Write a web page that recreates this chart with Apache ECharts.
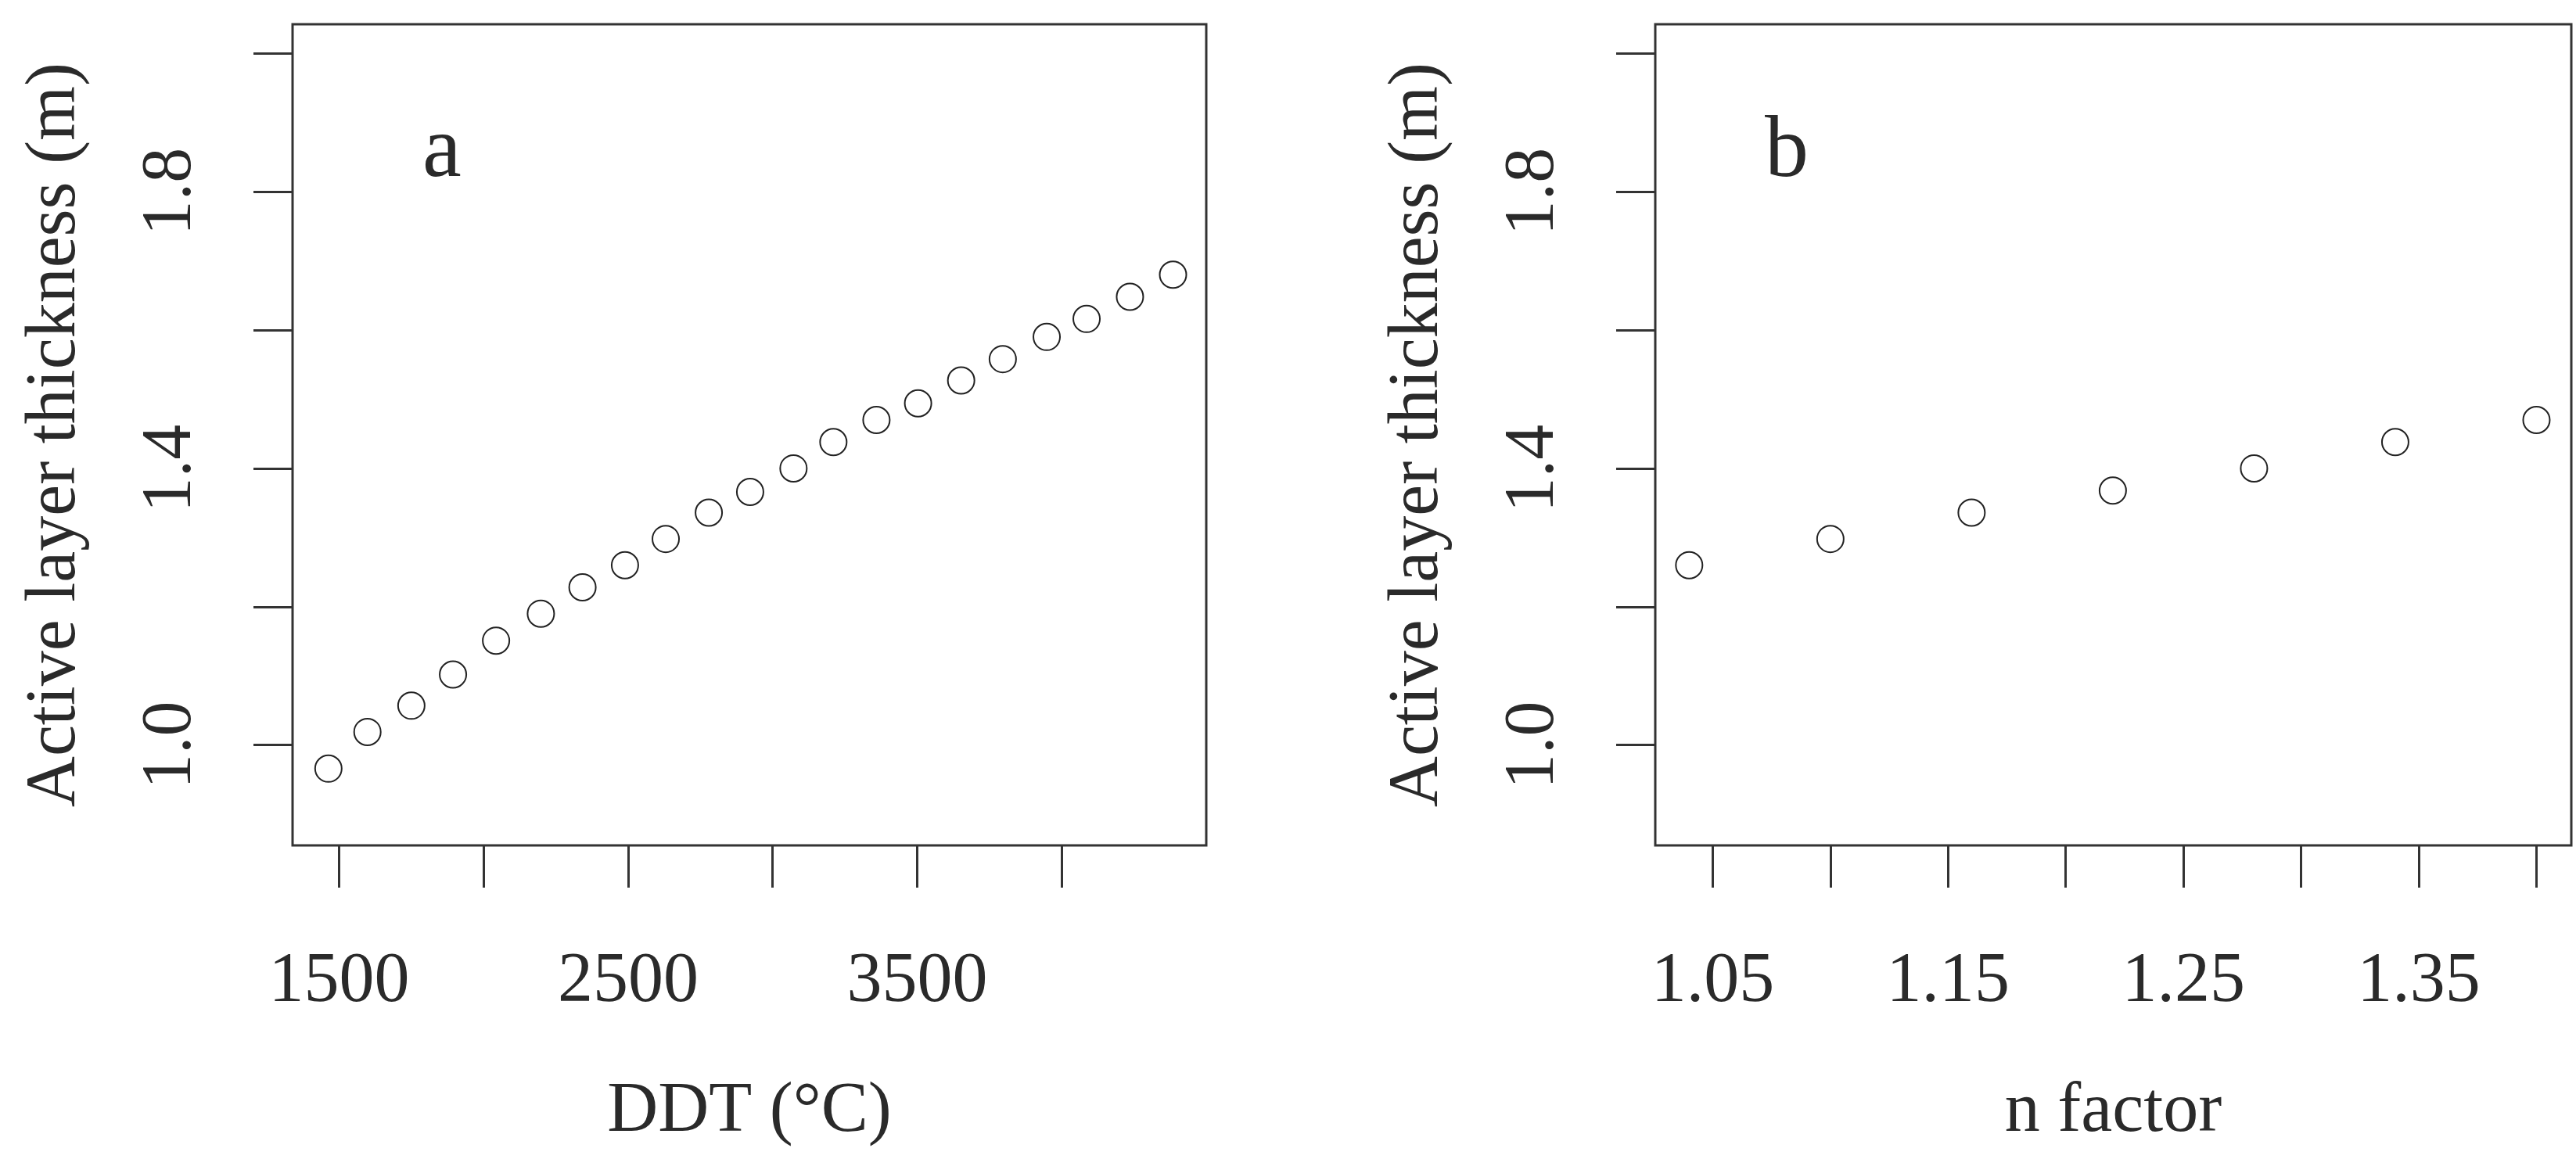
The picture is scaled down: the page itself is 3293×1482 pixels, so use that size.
<!DOCTYPE html>
<html><head><meta charset="utf-8">
<script src="https://cdn.jsdelivr.net/npm/echarts@6/dist/echarts.min.js"></script>
<style>html,body{margin:0;padding:0;background:#fff}#c{width:3293px;height:1482px}</style>
</head><body><div id="c"></div>
<script>
const ddtX = [1463,1598,1750,1894,2043,2198,2342,2489,2630,2779,2922,3072,3210,3359,3503,3652,3796,3948,4086,4236,4385];
const ddtY = [0.966,1.019,1.057,1.102,1.151,1.190,1.228,1.260,1.298,1.336,1.366,1.400,1.438,1.470,1.494,1.527,1.558,1.590,1.616,1.648,1.680];
const nX = [1.04,1.10,1.16,1.22,1.28,1.34,1.40];
const nY = [1.260,1.298,1.336,1.368,1.400,1.438,1.470];
const yTicks = [1.0,1.2,1.4,1.6,1.8,2.0];
const yLabels = [1.0,1.4,1.8];
const ddtTicks = [1500,2000,2500,3000,3500,4000];
const ddtLabels = [1500,2500,3500];
const nTicks = [1.05,1.10,1.15,1.20,1.25,1.30,1.35,1.40];
const nLabels = [1.05,1.15,1.25,1.35];

const FONT = '"Liberation Serif","DejaVu Serif",serif';
const INK = '#2a2a2a';
const fs = 90;
function xAx(idx, min, max, ticks, labels, name, dec){
  return {type:'value', gridIndex:idx, min, max, name, nameLocation:'middle', nameGap:296,
    nameTextStyle:{fontFamily:FONT,fontSize:fs,color:INK},
    axisLine:{show:false}, splitLine:{show:false},
    axisTick:{show:true, length:54, customValues:ticks, lineStyle:{color:'#333',width:3}},
    axisLabel:{customValues:labels, margin:130, fontFamily:FONT, fontSize:fs, color:INK,
      formatter:v=>v.toFixed(dec)}};
}
function yAx(idx){
  return {type:'value', gridIndex:idx, min:0.855, max:2.042, name:'Active layer thickness (m)',
    nameLocation:'middle', nameGap:258, nameRotate:90,
    nameTextStyle:{fontFamily:FONT,fontSize:fs,color:INK},
    axisLine:{show:false}, splitLine:{show:false},
    axisTick:{show:true, length:50, customValues:yTicks, lineStyle:{color:'#333',width:3}},
    axisLabel:{customValues:yLabels, rotate:90, margin:110, fontFamily:FONT, fontSize:fs, color:INK,
      formatter:v=>v.toFixed(1)}};
}
const sym = {type:'scatter', symbol:'emptyCircle', symbolSize:34,
  itemStyle:{color:'#222', borderColor:'#222', borderWidth:3, opacity:1}};
const chart = echarts.init(document.getElementById('c'));
chart.setOption({
  backgroundColor:'#fff', animation:false,
  grid:[
    {left:374, top:31, width:1168, height:1050, show:true, borderColor:'#333', borderWidth:3, backgroundColor:'transparent'},
    {left:2116, top:31, width:1171, height:1050, show:true, borderColor:'#333', borderWidth:3, backgroundColor:'transparent'}
  ],
  xAxis:[xAx(0,1339,4500,ddtTicks,ddtLabels,'DDT (°C)',0), xAx(1,1.0256,1.4148,nTicks,nLabels,'n factor',2)],
  yAxis:[yAx(0), yAx(1)],
  graphic:[
    {type:'text', left:540, top:140, style:{text:'a', font:'112px '+FONT, fill:INK}},
    {type:'text', left:2256, top:140, style:{text:'b', font:'112px '+FONT, fill:INK}}
  ],
  series:[
    Object.assign({xAxisIndex:0,yAxisIndex:0,data:ddtX.map((x,i)=>[x,ddtY[i]])}, sym),
    Object.assign({xAxisIndex:1,yAxisIndex:1,data:nX.map((x,i)=>[x,nY[i]])}, sym)
  ]
});
</script></body></html>
